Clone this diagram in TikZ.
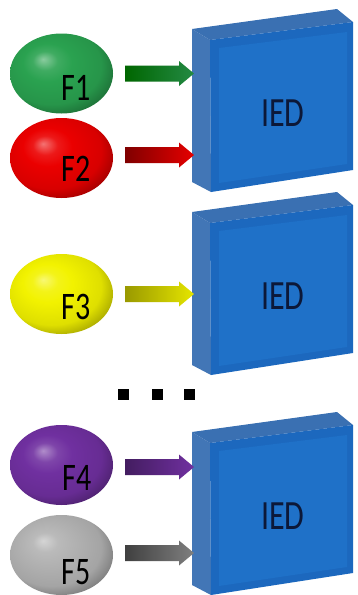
\documentclass[tikz,border=0pt]{standalone}
\usepackage{fontspec}
\setmainfont{Carlito}
\usetikzlibrary{shapes.geometric,calc}

\definecolor{boxfront}{HTML}{1C68BE}
\definecolor{boxinner}{HTML}{1F71C8}
\definecolor{boxside}{HTML}{4276B6}
\definecolor{boxtop}{HTML}{3A70B2}
\definecolor{iedink}{HTML}{0C1838}
\definecolor{eggpurple}{HTML}{7030A0}
\definecolor{egggreen}{HTML}{2AA250}

% radial shading for the eggs; its base colour is set per egg
\colorlet{eggbase}{gray}
\pgfdeclareradialshading[eggbase]{egg}{\pgfpoint{-9bp}{9bp}}{%
  color(0bp)=(eggbase!55!white);
  color(6bp)=(eggbase!90!white);
  color(12bp)=(eggbase);
  color(24bp)=(eggbase!92!black);
  color(30bp)=(eggbase!72!black);
  color(36bp)=(eggbase!55!black);
  color(50bp)=(eggbase!55!black)}

\tikzset{
  eggnode/.style={ellipse, inner sep=0pt, minimum width=103pt, minimum height=80pt,
    /utils/exec={\colorlet{eggbase}{#1}}, shading=egg, shade},
  flabel/.style={font=\fontsize{30}{30}\selectfont, text=black, inner sep=0pt},
  iedtext/.style={font=\fontsize{32}{32}\selectfont, text=iedink, inner sep=0pt},
  dotbox/.style={fill=black, minimum size=11pt, inner sep=0pt},
}

% a 3D panel whose front face has its top-left corner at height #2
\newcommand\iedbox[2]{%
  \begin{scope}[shift={(0,#2)}]
    \fill[boxside]  (192,-11) -- (210,0) -- (211,152) -- (192,142) -- cycle;
    \fill[boxtop]   (192,-11) -- (337,-31) -- (353,-18) -- (210,0) -- cycle;
    \fill[boxfront] (210,0) -- (353,-18) -- (353,130) -- (211,152) -- cycle;
    \fill[boxinner] (219,8) -- (347,-8) -- (347,124) -- (219,143) -- cycle;
    \node[iedtext] (#1) at (283,73) {\scalebox{1}[1.3]{IED}};
  \end{scope}}

% thick shaded arrow from egg #1 (vertical offset #2) to the panel edge
\newcommand\fatarrow[4]{%
  \shade[left color=#3, right color=#4]
    let \p1 = ($(#1.center)+(63.5,#2)$) in
    (\x1,\y1+8pt) -- (179pt,\y1+8pt) -- (179pt,\y1+12.5pt) -- (194pt,\y1)
    -- (179pt,\y1-12.5pt) -- (179pt,\y1-8pt) -- (\x1,\y1-8pt) -- cycle;}

\begin{document}
\begin{tikzpicture}[x=1pt,y=-1pt]
  \useasboundingbox (0,0) rectangle (357,595);
  \fill[white] (0,0) rectangle (357,595);

  % panels
  \iedbox{ied1}{40}
  \iedbox{ied2}{223}
  \iedbox{ied3}{443}

  % sources
  \node[eggnode=egggreen]          (f1) at (61.5,73.5) {};
  \node[eggnode={red!92!black}]    (f2) at (61.5,158) {};
  \node[eggnode={yellow!95!black}] (f3) at (61.5,294) {};
  \node[eggnode=eggpurple]         (f4) at (61.5,465) {};
  \node[eggnode={gray!60}]         (f5) at (61.5,555) {};

  \node[flabel] (f1t) at (76,88)  {\scalebox{1}[1.3]{F1}};
  \node[flabel] (f2t) at (76,169) {\scalebox{1}[1.3]{F2}};
  \node[flabel] (f3t) at (76,307) {\scalebox{1}[1.3]{F3}};
  \node[flabel] (f4t) at (77,478) {\scalebox{1}[1.3]{F4}};
  \node[flabel] (f5t) at (76,572) {\scalebox{1}[1.3]{F5}};

  % arrows into the panels
  \fatarrow{f1}{0}{green!40!black}{egggreen!85!black}
  \fatarrow{f2}{-3}{red!50!black}{red!90!black}
  \fatarrow{f3}{0}{yellow!60!black}{yellow!90!black}
  \fatarrow{f4}{2}{eggpurple!60!black}{eggpurple}
  \fatarrow{f5}{-2}{black!75}{black!50}

  % ellipsis between the groups
  \node[dotbox] (d1) at (123,394) {};
  \node[dotbox] (d2) at (157,394) {};
  \node[dotbox] (d3) at (189,394) {};
\end{tikzpicture}
\end{document}
